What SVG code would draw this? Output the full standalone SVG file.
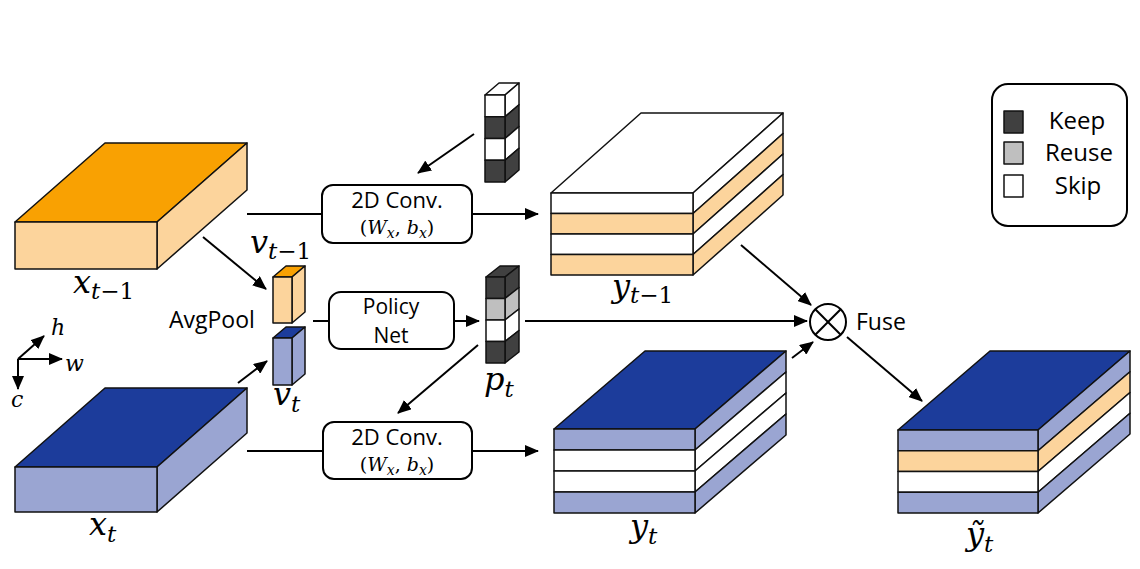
<svg xmlns="http://www.w3.org/2000/svg" width="1140" height="569" viewBox="0 0 1140 569">
<style>
.e{stroke:#111;stroke-width:1.5;stroke-linejoin:round}
.or{fill:#F9A102}.lo{fill:#FCD49C}.db{fill:#1C3C9B}.lb{fill:#9AA5D2}.w{fill:#fff}.dk{fill:#404040}.gr{fill:#BFBFBF}
.ln{stroke:#000;stroke-width:2;fill:none}
.box{fill:#fff;stroke:#000;stroke-width:2}
.t{font-family:'Open Sans','Noto Sans',sans-serif;fill:#000}
.m{font-family:'DejaVu Serif','Liberation Serif',serif;font-style:italic;fill:#000}
.u{font-style:normal}
</style>
<defs>
<marker id="ah" markerWidth="14" markerHeight="12" refX="13" refY="6" orient="auto" markerUnits="userSpaceOnUse">
<path d="M0,0 L14,6 L0,12 Z" fill="#000"/>
</marker>
</defs>
<rect width="1140" height="569" fill="#fff"/>

<g id="x_tm1">
<polygon class="e or" points="15,222 157,222 247,143 105,143"/>
<polygon class="e lo" points="157,222 247,143 247,190 157,269"/>
<rect class="e lo" x="15" y="222" width="142" height="47"/>
<text class="m" x="73" y="293" font-size="32">x<tspan font-size="23" dy="6">t<tspan class="u">−1</tspan></tspan></text>
</g>

<g id="x_t">
<polygon class="e db" points="15,467 157,467 247,388 105,388"/>
<polygon class="e lb" points="157,467 247,388 247,433 157,512"/>
<rect class="e lb" x="15" y="467" width="142" height="45"/>
<text class="m" x="89" y="535" font-size="32">x<tspan font-size="23" dy="7">t</tspan></text>
</g>

<g id="axes">
<line class="ln" x1="18" y1="359" x2="44" y2="336" marker-end="url(#ah)"/>
<line class="ln" x1="18" y1="359" x2="62" y2="359" marker-end="url(#ah)"/>
<line class="ln" x1="18" y1="359" x2="18" y2="389" marker-end="url(#ah)"/>
<text class="m" x="51" y="335" font-size="22">h</text>
<text class="m" x="65" y="371" font-size="22">w</text>
<text class="m" x="11" y="407" font-size="22">c</text>
</g>

<g id="v_tm1">
<polygon class="e or" points="273,277 292,277 305,266 286,266"/>
<polygon class="e lo" points="292,277 305,266 305,312 292,323"/>
<rect class="e lo" x="273" y="277" width="19" height="46"/>
<text class="m" x="250" y="253" font-size="32">v<tspan font-size="23" dy="6">t<tspan class="u">−1</tspan></tspan></text>
</g>

<g id="v_t">
<polygon class="e db" points="273,338 292,338 305,327 286,327"/>
<polygon class="e lb" points="292,338 305,327 305,374 292,385"/>
<rect class="e lb" x="273" y="338" width="19" height="47"/>
<text class="m" x="273" y="405" font-size="32">v<tspan font-size="23" dy="7">t</tspan></text>
</g>

<text id="avgpool" class="t" x="169" y="328" font-size="23">AvgPool</text>

<g id="conv_top">
<rect class="box" x="322" y="185" width="150" height="58" rx="11"/>
<text class="t" x="397" y="208" font-size="22" text-anchor="middle">2D Conv.</text>
<text class="m" x="397" y="234" font-size="19" text-anchor="middle"><tspan class="u">(</tspan>W<tspan font-size="14" dy="4">x</tspan><tspan dy="-4" class="u">, </tspan>b<tspan font-size="14" dy="4">x</tspan><tspan dy="-4" class="u">)</tspan></text>
</g>

<g id="policy">
<rect class="box" x="329" y="292" width="125" height="57" rx="12"/>
<text class="t" x="391" y="314" font-size="21" text-anchor="middle">Policy</text>
<text class="t" x="391" y="343" font-size="21" text-anchor="middle">Net</text>
</g>

<g id="conv_bot">
<rect class="box" x="323" y="422" width="149" height="57" rx="11"/>
<text class="t" x="397" y="445" font-size="22" text-anchor="middle">2D Conv.</text>
<text class="m" x="397" y="471" font-size="19" text-anchor="middle"><tspan class="u">(</tspan>W<tspan font-size="14" dy="4">x</tspan><tspan dy="-4" class="u">, </tspan>b<tspan font-size="14" dy="4">x</tspan><tspan dy="-4" class="u">)</tspan></text>
</g>

<g id="mask_top">
<polygon class="e w" points="485,95 505,95 519,83 499,83"/>
<polygon class="e w" points="505,95 519,83 519,104.75 505,116.75"/>
<polygon class="e dk" points="505,116.75 519,104.75 519,126.5 505,138.5"/>
<polygon class="e w" points="505,138.5 519,126.5 519,148.25 505,160.25"/>
<polygon class="e dk" points="505,160.25 519,148.25 519,170 505,182"/>
<rect class="e w" x="485" y="95" width="20" height="21.75"/>
<rect class="e dk" x="485" y="116.75" width="20" height="21.75"/>
<rect class="e w" x="485" y="138.5" width="20" height="21.75"/>
<rect class="e dk" x="485" y="160.25" width="20" height="21.75"/>
</g>

<g id="p_t">
<polygon class="e dk" points="486,277 505,277 519,266 500,266"/>
<polygon class="e dk" points="505,277 519,266 519,287.5 505,298.5"/>
<polygon class="e gr" points="505,298.5 519,287.5 519,309 505,320"/>
<polygon class="e w" points="505,320 519,309 519,330.5 505,341.5"/>
<polygon class="e dk" points="505,341.5 519,330.5 519,352 505,363"/>
<rect class="e dk" x="486" y="277" width="19" height="21.5"/>
<rect class="e gr" x="486" y="298.5" width="19" height="21.5"/>
<rect class="e w" x="486" y="320" width="19" height="21.5"/>
<rect class="e dk" x="486" y="341.5" width="19" height="21.5"/>
<text class="m" x="484" y="390" font-size="32">p<tspan font-size="23" dy="7">t</tspan></text>
</g>

<g id="y_tm1">
<polygon class="e w" points="551,193 693,193 783,113 641,113"/>
<polygon class="e w" points="693,193 783,113 783,133.5 693,213.5"/>
<polygon class="e lo" points="693,213.5 783,133.5 783,154 693,234"/>
<polygon class="e w" points="693,234 783,154 783,174.5 693,254.5"/>
<polygon class="e lo" points="693,254.5 783,174.5 783,195 693,275"/>
<rect class="e w" x="551" y="193" width="142" height="20.5"/>
<rect class="e lo" x="551" y="213.5" width="142" height="20.5"/>
<rect class="e w" x="551" y="234" width="142" height="20.5"/>
<rect class="e lo" x="551" y="254.5" width="142" height="20.5"/>
<text class="m" x="612" y="297" font-size="32">y<tspan font-size="23" dy="6">t<tspan class="u">−1</tspan></tspan></text>
</g>

<g id="y_t">
<polygon class="e db" points="554,429 695,429 786,351 645,351"/>
<polygon class="e lb" points="695,429 786,351 786,372 695,450"/>
<polygon class="e w" points="695,450 786,372 786,393 695,471"/>
<polygon class="e w" points="695,471 786,393 786,414 695,492"/>
<polygon class="e lb" points="695,492 786,414 786,435 695,513"/>
<rect class="e lb" x="554" y="429" width="141" height="21"/>
<rect class="e w" x="554" y="450" width="141" height="21"/>
<rect class="e w" x="554" y="471" width="141" height="21"/>
<rect class="e lb" x="554" y="492" width="141" height="21"/>
<text class="m" x="630" y="537" font-size="32">y<tspan font-size="23" dy="7">t</tspan></text>
</g>

<g id="y_tilde">
<polygon class="e db" points="898,430 1038,430 1130,351 990,351"/>
<polygon class="e lb" points="1038,430 1130,351 1130,371.75 1038,450.75"/>
<polygon class="e lo" points="1038,450.75 1130,371.75 1130,392.5 1038,471.5"/>
<polygon class="e w" points="1038,471.5 1130,392.5 1130,413.25 1038,492.25"/>
<polygon class="e lb" points="1038,492.25 1130,413.25 1130,434 1038,513"/>
<rect class="e lb" x="898" y="430" width="140" height="20.75"/>
<rect class="e lo" x="898" y="450.75" width="140" height="20.75"/>
<rect class="e w" x="898" y="471.5" width="140" height="20.75"/>
<rect class="e lb" x="898" y="492.25" width="140" height="20.75"/>
<text class="m" x="966" y="545" font-size="32">ỹ<tspan font-size="23" dy="7">t</tspan></text>
</g>

<g id="fuse">
<circle cx="828" cy="322" r="18" fill="#fff" stroke="#000" stroke-width="2"/>
<line class="ln" x1="815.3" y1="309.3" x2="840.7" y2="334.7"/>
<line class="ln" x1="840.7" y1="309.3" x2="815.3" y2="334.7"/>
<text class="t" x="856" y="330" font-size="23">Fuse</text>
</g>

<g id="legend">
<rect x="992" y="84" width="135" height="142" rx="16" fill="#fff" stroke="#000" stroke-width="2"/>
<rect class="e dk" x="1004" y="111" width="19" height="22"/>
<rect class="e gr" x="1004" y="142" width="19" height="22"/>
<rect class="e w" x="1004" y="175" width="19" height="22"/>
<text class="t" x="1077" y="129" font-size="24" text-anchor="middle">Keep</text>
<text class="t" x="1079" y="161" font-size="24" text-anchor="middle">Reuse</text>
<text class="t" x="1078" y="194" font-size="24" text-anchor="middle">Skip</text>
</g>

<g id="connectors">
<line class="ln" x1="203" y1="237" x2="266" y2="289" marker-end="url(#ah)"/>
<line class="ln" x1="238" y1="383" x2="267" y2="361" marker-end="url(#ah)"/>
<line class="ln" x1="247" y1="214" x2="322" y2="214"/>
<line class="ln" x1="472" y1="214" x2="538" y2="214" marker-end="url(#ah)"/>
<line class="ln" x1="474" y1="134" x2="418" y2="173" marker-end="url(#ah)"/>
<line class="ln" x1="313" y1="321" x2="329" y2="321"/>
<line class="ln" x1="454" y1="321" x2="479" y2="321" marker-end="url(#ah)"/>
<line class="ln" x1="525" y1="321" x2="807" y2="321" marker-end="url(#ah)"/>
<line class="ln" x1="478" y1="345" x2="398" y2="413" marker-end="url(#ah)"/>
<line class="ln" x1="247" y1="451" x2="323" y2="451"/>
<line class="ln" x1="472" y1="451" x2="538" y2="451" marker-end="url(#ah)"/>
<line class="ln" x1="741" y1="245" x2="811" y2="305" marker-end="url(#ah)"/>
<line class="ln" x1="792" y1="358" x2="813" y2="342" marker-end="url(#ah)"/>
<line class="ln" x1="847" y1="337" x2="922" y2="401" marker-end="url(#ah)"/>
</g>
</svg>
